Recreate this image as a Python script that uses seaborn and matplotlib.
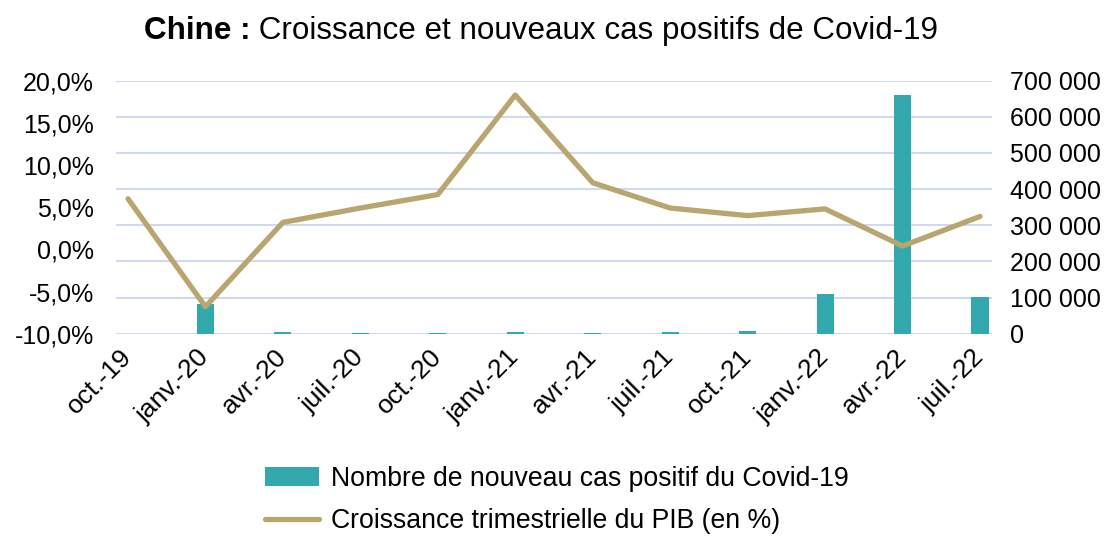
import numpy as np
import pandas as pd
import matplotlib
matplotlib.use("Agg")
import matplotlib.pyplot as plt
import seaborn as sns
from matplotlib.ticker import FuncFormatter
from matplotlib.patches import Patch
from matplotlib.lines import Line2D

categories = ["oct.-19", "janv.-20", "avr.-20", "juil.-20", "oct.-20", "janv.-21",
              "avr.-21", "juil.-21", "oct.-21", "janv.-22", "avr.-22", "juil.-22"]
croissance_pib = [6.0, -6.8, 3.2, 4.9, 6.5, 18.3, 7.9, 4.9, 4.0, 4.8, 0.4, 3.9]
nouveaux_cas = [0, 81500, 3500, 2000, 2000, 4500, 1500, 4500, 6500, 111000, 660000, 101500]

title_bold = "Chine :"
title_rest = " Croissance et nouveaux cas positifs de Covid-19"
bar_label = "Nombre de nouveau cas positif du Covid-19"
line_label = "Croissance trimestrielle du PIB (en %)"

sns.set_theme(style="white")
plt.rcParams['font.family'] = ['Liberation Sans', 'DejaVu Sans']
plt.rcParams['text.color'] = 'black'

BAR_C = "#31A9AE"
LINE_C = "#B8A56F"
GRID_C = "#D0D9EF"

df = pd.DataFrame({"cat": categories, "pib": croissance_pib, "cas": nouveaux_cas})
df["pos"] = np.arange(len(df))

fig = plt.figure(figsize=(11.14, 5.36), dpi=100)
ax = fig.add_axes([116/1114, 1-333.7/536, (992-116)/1114, (333.7-80.7)/536])
ax2 = ax.twinx()

# bars on primary (drawn below), shown on right-hand scale
sns.barplot(data=df, x="pos", y="cas", ax=ax, color=BAR_C, width=0.22,
            native_scale=True, saturation=1, edgecolor="none")
# line on twin axis (drawn above), shown on left-hand scale
sns.lineplot(data=df, x="pos", y="pib", ax=ax2, color=LINE_C, linewidth=3.8)

ax.set_ylim(0, 700000)
ax.set_yticks(np.arange(0, 700001, 100000))
ax2.set_ylim(-10, 20)
ax2.set_yticks(np.arange(-10, 20.1, 5))
ax.set_xlim(-0.155, len(categories) - 1 + 0.155)
ax.set_xticks(df["pos"])
ax.set_xticklabels(categories)

ax.yaxis.tick_right()
ax.yaxis.set_label_position("right")
ax2.yaxis.tick_left()
ax2.yaxis.set_label_position("left")

ax.yaxis.set_major_formatter(FuncFormatter(lambda v, p: f"{int(v):,}".replace(",", " ")))
ax2.yaxis.set_major_formatter(FuncFormatter(lambda v, p: f"{v:.1f}%".replace(".", ",").replace("\u2212", "-")))

for a in (ax, ax2):
    a.set_xlabel("")
    a.set_ylabel("")
    for s in a.spines.values():
        s.set_visible(False)
    a.set_facecolor("none")

ax.grid(axis="y", color=GRID_C, linewidth=1.5)
ax.grid(axis="x", visible=False)
ax2.grid(False)
ax.set_axisbelow(True)

ax.tick_params(axis="y", length=0, pad=13, labelsize=18, colors="black")
ax2.tick_params(axis="y", length=0, pad=16, labelsize=18, colors="black")
ax.tick_params(axis="x", length=0, pad=14, labelsize=19, colors="black")
for lbl in ax.get_xticklabels():
    lbl.set_rotation(45)
    lbl.set_ha("right")
    lbl.set_va("center")
    lbl.set_rotation_mode("anchor")

# Title: bold prefix + regular rest, centred together
TFS = 22.6
ty = 1 - 31/536
t1 = fig.text(0, ty, title_bold, ha="left", va="center", fontsize=TFS, fontweight="bold", color="black")
t2 = fig.text(0, ty, title_rest, ha="left", va="center", fontsize=TFS, color="black")
fig.canvas.draw()
r = fig.canvas.get_renderer()
w1 = t1.get_window_extent(r).width
w2 = t2.get_window_extent(r).width
x0 = 541 - (w1 + w2) / 2
t1.set_x(x0 / 1114)
t2.set_x((x0 + w1) / 1114)

handles = [Patch(facecolor=BAR_C, edgecolor="none"),
           Line2D([0], [0], color=LINE_C, linewidth=3.8)]
fig.legend(handles, [bar_label, line_label], loc="center",
           bbox_to_anchor=(0.5, 1 - 500/536), frameon=False, fontsize=19.2,
           handlelength=2.0, handletextpad=0.45, labelspacing=0.6)

fig.savefig("out.png", dpi=100)
